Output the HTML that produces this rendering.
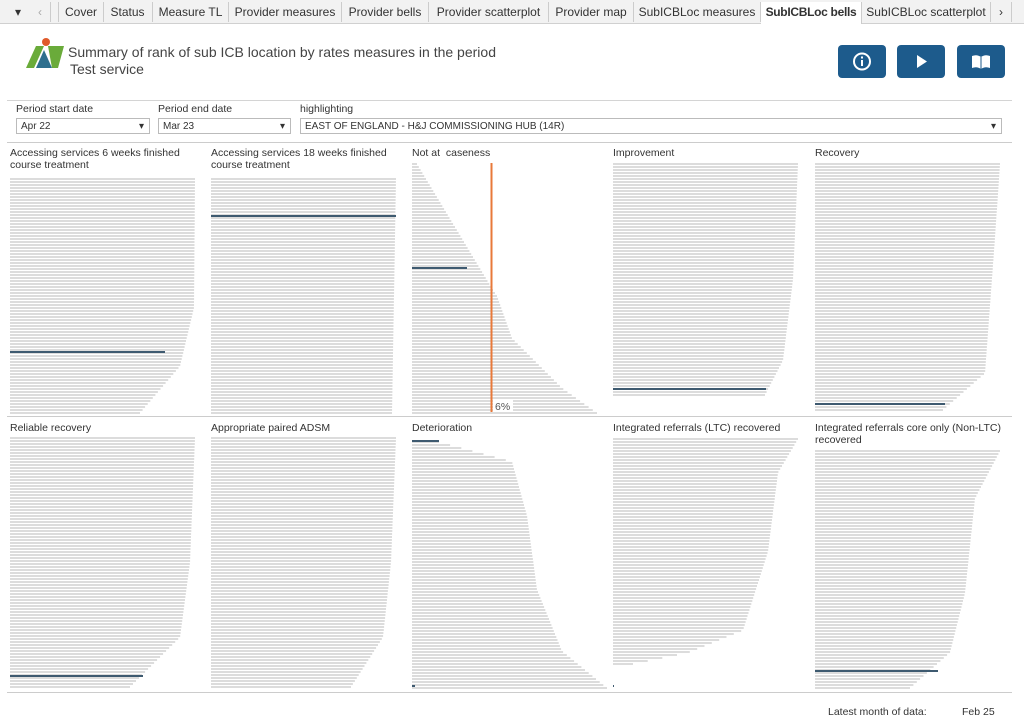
<!DOCTYPE html>
<html><head><meta charset="utf-8"><style>
body{margin:0;width:1024px;height:726px;background:#fff;font-family:"Liberation Sans",sans-serif;position:relative;overflow:hidden;color:#333}
.tabs{position:absolute;left:0;top:0;width:1024px;height:23px;background:#f2f2f2;border-bottom:1px solid #d0d0d0}
.tab{position:absolute;top:2px;height:20px;line-height:20px;font-size:12px;color:#333;border-right:1px solid #ccc;text-align:center;white-space:nowrap;overflow:hidden}
.tab.act{background:#fff;font-weight:bold;height:22px;letter-spacing:-0.3px}
.t{position:absolute;white-space:nowrap}
.sel{position:absolute;height:16px;border:1px solid #bbb;font-size:10px;line-height:16px;padding-left:4px;box-sizing:border-box;background:#fff}
.sel:after{content:"▾";position:absolute;right:5px;top:0;font-size:10px}
.btn{position:absolute;top:45px;width:48px;height:33px;background:#1d5b8c;border-radius:4px}
.hl{position:absolute;height:1px;background:#d4d4d4}
.pt{position:absolute;font-size:10.5px;line-height:12px;color:#333}
</style></head><body>
<div class="tabs">
<div class="tab" style="left:8px;width:20px;border:none">▾</div>
<div class="tab" style="left:30px;width:20px;color:#aaa">‹</div>
<div class="tab" style="left:58px;width:44px;border-left:1px solid #ccc">Cover</div>
<div class="tab" style="left:103px;width:49px">Status</div>
<div class="tab" style="left:153px;width:75px">Measure TL</div>
<div class="tab" style="left:229px;width:112px">Provider measures</div>
<div class="tab" style="left:342px;width:86px">Provider bells</div>
<div class="tab" style="left:429px;width:119px">Provider scatterplot</div>
<div class="tab" style="left:549px;width:84px">Provider map</div>
<div class="tab" style="left:634px;width:126px">SubICBLoc measures</div>
<div class="tab act" style="left:761px;width:100px">SubICBLoc bells</div>
<div class="tab" style="left:862px;width:128px">SubICBLoc scatterplot</div>
<div class="tab" style="left:991px;width:20px">›</div>
</div>
<svg style="position:absolute;left:24px;top:38px" width="42" height="32"><circle cx="22" cy="4" r="4" fill="#e05a2b"/><polygon points="2,30 12,8 20,8 10,30" fill="#6aab3a"/><polygon points="24,8 40,8 34,30 28,30" fill="#6aab3a"/><polygon points="12,30 20,12 28,30" fill="#2e6f8e"/></svg>
<div class="t" style="left:68px;top:44px;font-size:14px;color:#444">Summary of rank of sub ICB location by rates measures in the period</div>
<div class="t" style="left:70px;top:61px;font-size:14px;color:#444">Test service</div>
<div class="btn" style="left:838px"><svg width="48" height="33"><circle cx="24" cy="16.5" r="8" fill="none" stroke="#fff" stroke-width="2"/><rect x="23" y="15" width="2" height="6" fill="#fff"/><rect x="23" y="11.5" width="2" height="2" fill="#fff"/></svg></div>
<div class="btn" style="left:897px"><svg width="48" height="33"><polygon points="20,10 30,16.5 20,23" fill="#fff"/></svg></div>
<div class="btn" style="left:957px"><svg width="48" height="33"><path d="M15 11 Q20 9 24 12 Q28 9 33 11 L33 23 Q28 21 24 24 Q20 21 15 23Z" fill="#fff"/><line x1="24" y1="12" x2="24" y2="24" stroke="#1d5b8c"/></svg></div>
<div class="hl" style="left:7px;top:100px;width:1005px"></div>
<div class="t" style="left:16px;top:103px;font-size:10.5px">Period start date</div>
<div class="t" style="left:158px;top:103px;font-size:10.5px">Period end date</div>
<div class="t" style="left:300px;top:103px;font-size:10.5px">highlighting</div>
<div class="sel" style="left:16px;top:118px;width:134px">Apr 22</div>
<div class="sel" style="left:158px;top:118px;width:133px">Mar 23</div>
<div class="sel" style="left:300px;top:118px;width:702px">EAST OF ENGLAND - H&amp;J COMMISSIONING HUB (14R)</div>
<div class="hl" style="left:7px;top:142px;width:1005px;background:#ccc"></div>
<div class="hl" style="left:7px;top:416px;width:1005px;background:#ccc"></div>
<div class="hl" style="left:7px;top:692px;width:1005px;background:#ccc"></div>
<div class="pt" style="left:10px;top:147px">Accessing services 6 weeks finished<br>course treatment</div>
<div class="pt" style="left:211px;top:147px">Accessing services 18 weeks finished<br>course treatment</div>
<div class="pt" style="left:412px;top:147px">Not at&nbsp; caseness</div>
<div class="pt" style="left:613px;top:147px">Improvement</div>
<div class="pt" style="left:815px;top:147px">Recovery</div>
<div class="pt" style="left:10px;top:422px">Reliable recovery</div>
<div class="pt" style="left:211px;top:422px">Appropriate paired ADSM</div>
<div class="pt" style="left:412px;top:422px">Deterioration</div>
<div class="pt" style="left:613px;top:422px">Integrated referrals (LTC) recovered</div>
<div class="pt" style="left:815px;top:422px">Integrated referrals core only (Non-LTC)<br>recovered</div>
<svg id="ch" style="position:absolute;left:0;top:0" width="1024" height="726"></svg>
<div class="t" style="left:828px;top:706px;font-size:10.5px">Latest month of data:</div>
<div class="t" style="left:962px;top:706px;font-size:10.5px">Feb 25</div>
<script>
var P=[
[10,178,412,[[0,185],[0.55,184],[0.8,170],[1,130]],351,155],
[211,178,412,[[0,185],[1,181]],215,185],
[412,163,412,[[0,5],[0.5,80],[0.53,85],[0.7,100],[0.9,150],[1,185]],267,55],
[613,163,395,[[0,185],[0.5,180],[0.85,170],[1,152]],388,153],
[815,163,410,[[0,185],[0.3,180],[0.85,170],[1,128]],403,130],
[10,437,688,[[0,185],[0.5,180],[0.8,170],[1,120]],675,133],
[211,437,688,[[0,185],[0.5,180],[0.8,172],[1,140]],-1,0],
[412,441,688,[[0,27],[0.08,100],[0.3,115],[0.6,125],[0.85,150],[1,195]],440,27],
[613,438,665,[[0,185],[0.15,165],[0.5,155],[0.85,130],[0.95,75],[1,20]],685,1],
[815,450,688,[[0,185],[0.2,160],[0.6,150],[0.85,135],[1,95]],670,123]];
function f(pts,t){for(var i=1;i<pts.length;i++){if(t<=pts[i][0]){var a=pts[i-1],b=pts[i];return a[1]+(b[1]-a[1])*(t-a[0])/(b[0]-a[0]);}}return pts[pts.length-1][1];}
var s="";
P.forEach(function(p){var n=Math.floor((p[2]-p[1])/3);for(var i=0;i<=n;i++){var y=p[1]+i*3;s+='<rect x="'+p[0]+'" y="'+y+'" width="'+f(p[3],i/n).toFixed(1)+'" height="2" fill="#dcdcdc"/>';}
if(p[4]>0)s+='<rect x="'+p[0]+'" y="'+p[4]+'" width="'+p[5]+'" height="2" fill="#3e5a70"/>';});
s+='<rect x="412" y="685" width="3" height="2" fill="#3e5a70"/>';
s+='<rect x="490.5" y="163" width="2" height="249" fill="#e8793a"/>';
s+='<rect x="493" y="400" width="20" height="12" fill="#fff"/><text x="495" y="410" font-size="10.5" fill="#555" font-family="Liberation Sans">6%</text>';
document.getElementById("ch").innerHTML=s;
</script>
</body></html>
